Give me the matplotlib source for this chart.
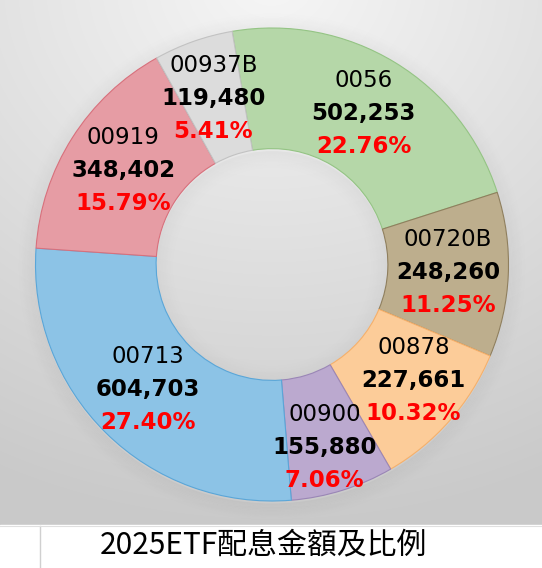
import numpy as np
import matplotlib
matplotlib.use("Agg")
import matplotlib.pyplot as plt
from matplotlib.patches import Wedge, Rectangle

# data
names = ["0056", "00720B", "00878", "00900", "00713", "00919", "00937B"]
amounts = [502253, 248260, 227661, 155880, 604703, 348402, 119480]
shares = [22.76, 11.25, 10.32, 7.06, 27.40, 15.79, 5.41]
title = "2025ETF配息金額及比例"

colors = ["#B5D7A8", "#BDAE8D", "#FCCC99", "#BBA9CF", "#8CC3E6", "#E69CA4", "#DCDCDC"]
edges = ["#94C484", "#8F7F5E", "#F6B06A", "#9A86B6", "#5AA6D8", "#D8707C", "#C2C2C2"]
# small nudges (pixels) where the label was moved to fit
nudge = {"00878": (9, 0), "00900": (0, -15)}

W, H = 542, 568
fig = plt.figure(figsize=(W / 100, H / 100), dpi=100)

# background: soft grey gradient, lightest at top centre
bg = fig.add_axes([0, 0, 1, 1])
yy, xx = np.mgrid[0:H, 0:W]
d = np.sqrt(((xx - 271) / 1.15) ** 2 + (yy + 20) ** 2)
g = 0.965 - 0.175 * np.clip(d / 545, 0, 1)
bg.imshow(np.dstack([g, g, g]), extent=(0, W, H, 0), aspect="auto")
bg.add_patch(Rectangle((0, 525), W, H - 525, color="white"))
bg.plot([40, 40], [526, H], color="#D0D0D0", lw=1)
bg.plot([0, W], [525.5, 525.5], color="#E0E0E0", lw=0.8)
bg.set_xlim(0, W)
bg.set_ylim(H, 0)
bg.axis("off")

# doughnut
cx, cy, R = 272, 264.5, 236.5
ax = fig.add_axes([(cx - R) / W, (H - cy - R) / H, 2 * R / W, 2 * R / H])
ring = 0.51

# soft shadow around the ring
n = 12
for i in range(n):
    a = 0.035 * (1 - i / n)
    ax.add_patch(Wedge((0, -0.01), 1.0 + 0.006 * (i + 1), 0, 360, width=0.006,
                       color="black", alpha=a, lw=0, clip_on=False))
    ax.add_patch(Wedge((0, -0.01), 1 - ring - 0.006 * i, 0, 360, width=0.006,
                       color="black", alpha=a * 0.8, lw=0, clip_on=False))

wedges, _ = ax.pie(amounts, colors=colors, startangle=99.7, counterclock=False,
                   radius=1, wedgeprops=dict(width=ring, linewidth=0.8))
for w, ec in zip(wedges, edges):
    w.set_edgecolor(ec)

rmid = 1 - ring / 2
for w, name, amt, pct in zip(wedges, names, amounts, shares):
    ang = np.deg2rad((w.theta1 + w.theta2) / 2)
    x, y = rmid * np.cos(ang), rmid * np.sin(ang)
    dx, dy = nudge.get(name, (0, 0))
    kw = dict(xy=(x, y), textcoords="offset pixels", ha="center", va="center",
              family="DejaVu Sans", fontsize=16.5)
    ax.annotate(name, xytext=(dx, dy + 33), color="black", fontweight="normal", **kw)
    ax.annotate(f"{amt:,}", xytext=(dx, dy), color="black", fontweight="bold", **kw)
    ax.annotate(f"{pct:.2f}%", xytext=(dx, dy - 33), color="#FF0000", fontweight="bold", **kw)

ax.set_xlim(-1, 1)
ax.set_ylim(-1, 1)
ax.set_aspect("auto")
ax.axis("off")

fig.text(263 / W, 1 - 545 / H, title, ha="center", va="center", fontsize=21.5,
         family=["Noto Sans CJK TC", "DejaVu Sans"], color="black")

fig.savefig("out.png", dpi=100)
